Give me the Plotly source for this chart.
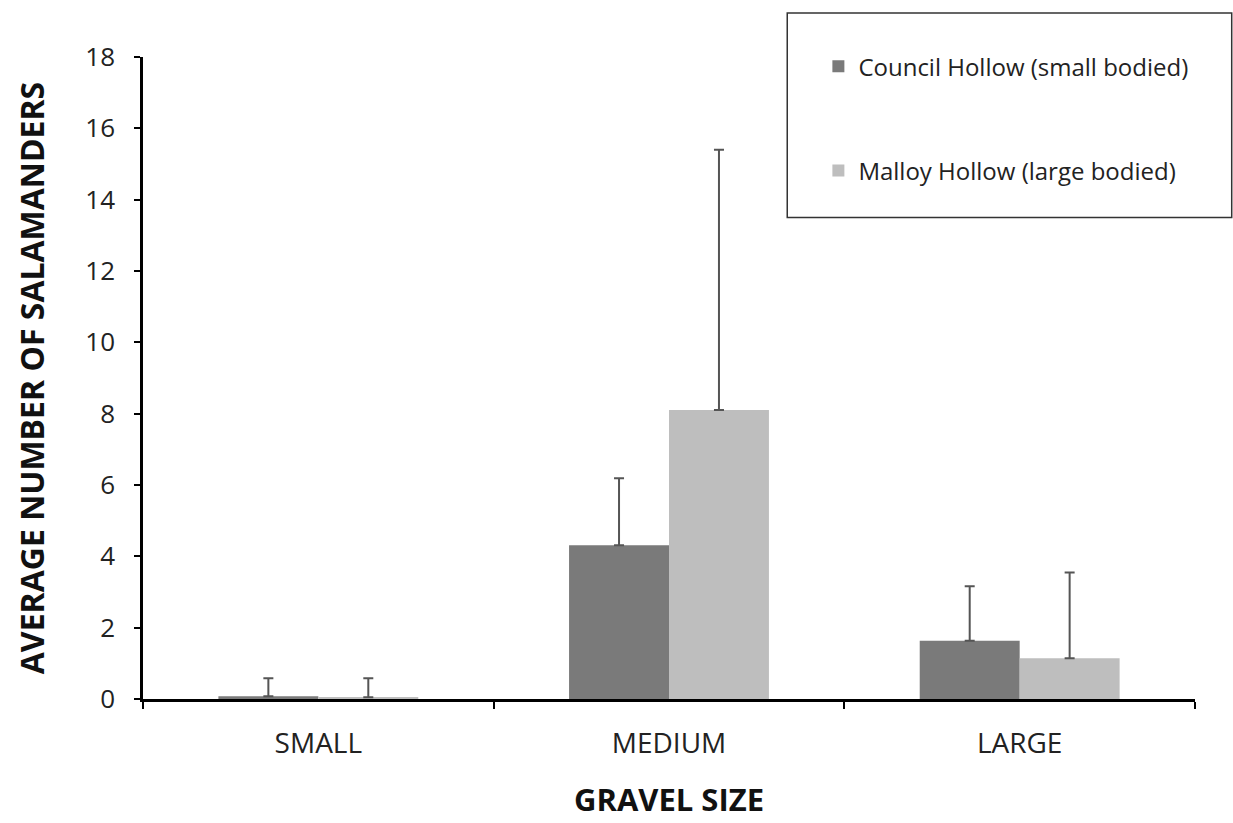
import plotly.graph_objects as go

# Gravel size categories and mean salamander counts per site
categories = ["SMALL", "MEDIUM", "LARGE"]
council_mean = [0.08, 4.31, 1.63]
malloy_mean = [0.05, 8.10, 1.14]
# Upper extent of each error bar (mean + error)
council_upper = [0.58, 6.19, 3.16]
malloy_upper = [0.58, 15.40, 3.55]

council_err = [u - m for u, m in zip(council_upper, council_mean)]
malloy_err = [u - m for u, m in zip(malloy_upper, malloy_mean)]

FONT = "Open Sans, sans-serif"

fig = go.Figure()
fig.add_trace(go.Bar(
    name="Council Hollow (small bodied)",
    x=categories, y=council_mean,
    marker=dict(color="#7a7a7a", line=dict(width=0)),
    error_y=dict(type="data", symmetric=False, array=council_err,
                 arrayminus=[0, 0, 0], color="#555555", thickness=2, width=5),
    legendgroup="a",
))
fig.add_trace(go.Bar(
    name="Malloy Hollow (large bodied)",
    x=categories, y=malloy_mean,
    marker=dict(color="#bebebe", line=dict(width=0)),
    error_y=dict(type="data", symmetric=False, array=malloy_err,
                 arrayminus=[0, 0, 0], color="#555555", thickness=2, width=5),
    legendgroup="b",
))

fig.update_layout(
    width=1233, height=823,
    margin=dict(l=143, r=38, t=57, b=124),
    paper_bgcolor="white", plot_bgcolor="white",
    barmode="group", bargap=0.43, bargroupgap=0.0,
    font=dict(family=FONT, color="#222222"),
    legend=dict(
        x=0.642, y=1.02, xanchor="left", yanchor="top",
        bgcolor="rgba(0,0,0,0)", borderwidth=0,
        font=dict(size=24, family=FONT, color="#222222"),
        traceorder="grouped", tracegroupgap=70,
        itemwidth=30,
    ),
    shapes=[dict(
        type="rect", xref="paper", yref="paper",
        x0=0.6124, x1=1.0349, y0=0.7500, y1=1.0684,
        line=dict(color="#333333", width=1.5), fillcolor="rgba(0,0,0,0)",
    )],
)

fig.update_xaxes(
    showline=True, linecolor="black", linewidth=2.5,
    ticks="outside", tickson="boundaries", ticklen=7, tickwidth=2, tickcolor="black",
    tickfont=dict(size=28, family=FONT, color="#222222"),
    ticklabelstandoff=18,
    title=dict(text="<b>GRAVEL SIZE</b>", font=dict(size=31, family=FONT, color="#111111"),
               standoff=29),
    showgrid=False, zeroline=False,
)
fig.update_yaxes(
    range=[0, 18], dtick=2,
    showline=True, linecolor="black", linewidth=2.5,
    ticks="outside", ticklen=6, tickwidth=2, tickcolor="black",
    tickfont=dict(size=26, family=FONT, color="#222222"),
    ticklabelstandoff=14,
    title=dict(text="<b>AVERAGE NUMBER OF SALAMANDERS</b>",
               font=dict(size=32, family=FONT, color="#111111"), standoff=32),
    showgrid=False, zeroline=False,
)

fig.write_html("out.html")
